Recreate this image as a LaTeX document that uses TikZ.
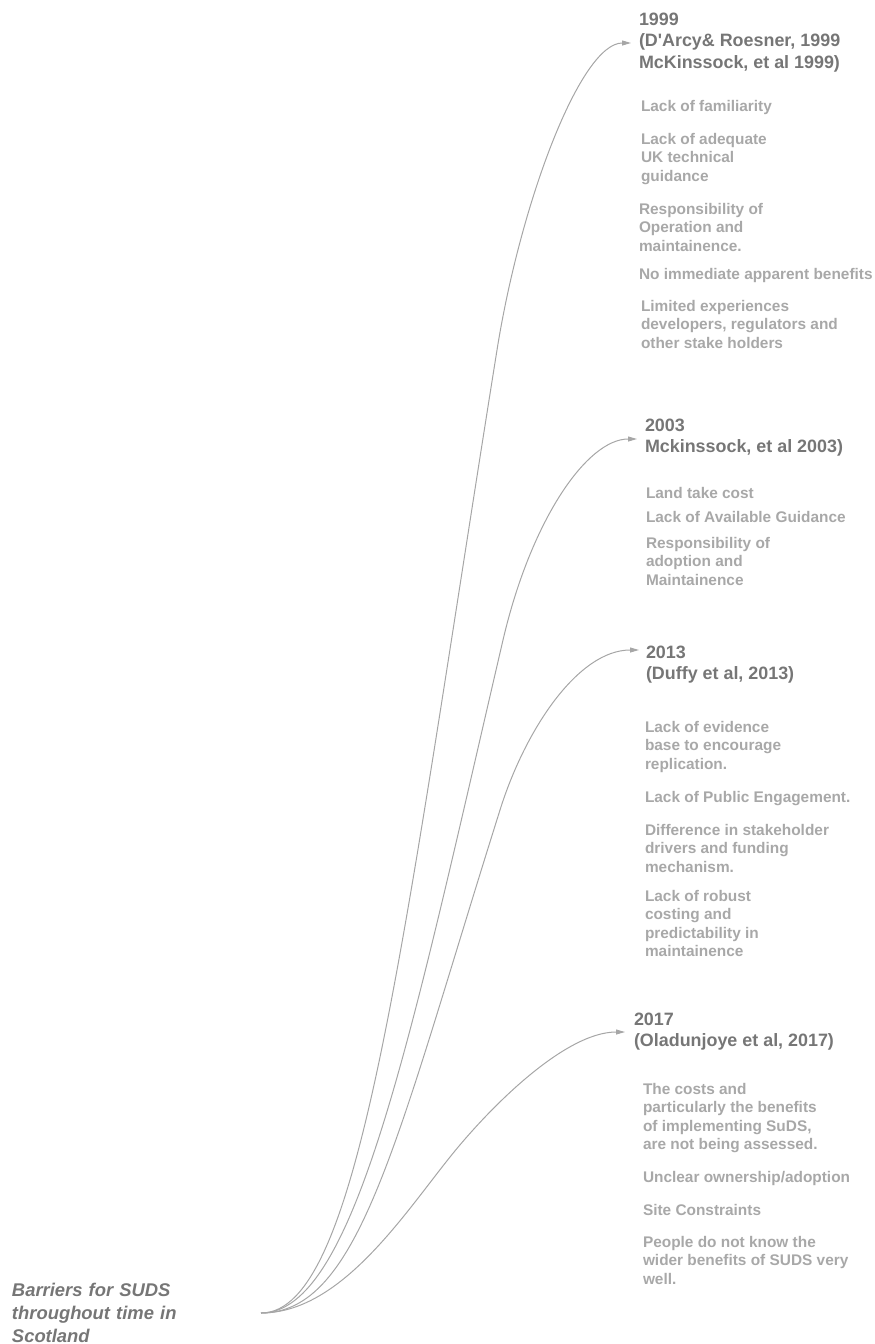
\documentclass[tikz,border=0pt]{standalone}
\usepackage{fontspec}
\setmainfont{Liberation Sans}
\usetikzlibrary{arrows.meta}
\definecolor{headgrey}{RGB}{118,118,118}
\definecolor{itemgrey}{RGB}{168,168,168}
\definecolor{linkgrey}{RGB}{166,166,166}
\begin{document}
\begin{tikzpicture}[x=1pt,y=-1pt,
  every node/.style={inner sep=0pt,outer sep=0pt},
  % multi-line nodes sit on the baseline of their last line
  heading/.style={anchor=base west,align=left,text=headgrey,
    font=\fontsize{17.9}{21.7}\selectfont\bfseries},
  item/.style={anchor=base west,align=left,text=itemgrey,
    font=\fontsize{15.4}{18.5}\selectfont\bfseries},
  title/.style={anchor=west,align=left,text width=249pt,text=headgrey,
    font=\fontsize{18.4}{23}\selectfont\bfseries\itshape},
  link/.style={draw=linkgrey,line width=1pt,
    -{Triangle[length=9pt,width=5pt]}}]
\useasboundingbox (0,0) rectangle (875,1344);

% central topic
\node[title] (root) at (12,1313) {Barriers for SUDS\\throughout time in\\Scotland};

% 1999 branch
\node[heading] (h1999) at (639,68.4) {1999\\(D\textquotesingle Arcy\& Roesner, 1999\\McKinssock, et al 1999)};
\node[item] (a1) at (641,111) {Lack of familiarity};
\node[item] (a2) at (641,181) {Lack of adequate\\UK technical\\guidance};
\node[item] (a3) at (639,251) {Responsibility of\\Operation and\\maintainence.};
\node[item] (a4) at (639,279) {No immediate apparent benefits};
\node[item] (a5) at (641,348) {Limited experiences\\developers, regulators and\\other stake holders};

% 2003 branch
\node[heading] (h2003) at (645,452.7) {2003\\Mckinssock, et al 2003)};
\node[item] (b1) at (646,498) {Land take cost};
\node[item] (b2) at (646,522) {Lack of Available Guidance};
\node[item] (b3) at (646,585) {Responsibility of\\adoption and\\Maintainence};

% 2013 branch
\node[heading] (h2013) at (646,679.7) {2013\\(Duffy et al, 2013)};
\node[item] (c1) at (645,769) {Lack of evidence\\base to encourage\\replication.};
\node[item] (c2) at (645,802) {Lack of Public Engagement.};
\node[item] (c3) at (645,872) {Difference in stakeholder\\drivers and funding\\mechanism.};
\node[item] (c4) at (645,956.5) {Lack of robust\\costing and\\predictability in\\maintainence};

% 2017 branch
\node[heading] (h2017) at (634,1046.7) {2017\\(Oladunjoye et al, 2017)};
\node[item] (d1) at (643,1149.5) {The costs and\\particularly the benefits\\of implementing SuDS,\\are not being assessed.};
\node[item] (d2) at (643,1182) {Unclear ownership/adoption};
\node[item] (d3) at (643,1215) {Site Constraints};
\node[item] (d4) at (643,1284) {People do not know the\\wider benefits of SUDS very\\well.};

% arrow tips and bend points of the branch curves
\coordinate (t1999) at (631,43);
\coordinate (t2003) at (637,439);
\coordinate (t2013) at (639,650);
\coordinate (t2017) at (625,1032);
\coordinate (m1999) at (497,350);
\coordinate (m2003) at (503,640);
\coordinate (m2013) at (500,810);
\coordinate (m2017) at (450,1157);

% branch curves
\draw[link] (root.east) .. controls (360,1313) and (401,950) .. (m1999)
  .. controls (521,200) and (581,43) .. (t1999);
\draw[link] (root.east) .. controls (355,1313) and (410,1040) .. (m2003)
  .. controls (531,520) and (587,439) .. (t2003);
\draw[link] (root.east) .. controls (360,1313) and (396,1140) .. (m2013)
  .. controls (525,730) and (578,650) .. (t2013);
\draw[link] (root.east) .. controls (340,1313) and (402,1217) .. (m2017)
  .. controls (490,1107) and (565,1032) .. (t2017);
\end{tikzpicture}
\end{document}
